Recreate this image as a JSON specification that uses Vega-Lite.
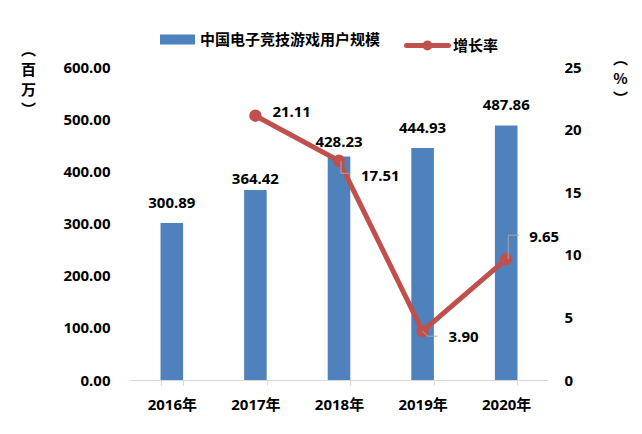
{
  "$schema": "https://vega.github.io/schema/vega-lite/v6.json",
  "width": 418,
  "height": 313,
  "autosize": {"type": "none"},
  "padding": {"left": 130, "top": 67, "right": 94, "bottom": 54},
  "background": "white",
  "config": {
    "view": {"stroke": null},
    "font": "Noto Sans, Noto Sans CJK SC",
    "text": {"font": "Noto Sans, Noto Sans CJK SC", "fontSize": 15, "fontWeight": "bold", "color": "#000000"}
  },
  "data": {
    "values": [
      {"year": "2016年", "users": 300.89, "growth": null},
      {"year": "2017年", "users": 364.42, "growth": 21.11},
      {"year": "2018年", "users": 428.23, "growth": 17.51},
      {"year": "2019年", "users": 444.93, "growth": 3.90},
      {"year": "2020年", "users": 487.86, "growth": 9.65}
    ]
  },
  "encoding": {
    "x": {
      "field": "year", "type": "nominal", "sort": null,
      "scale": {"paddingInner": 0.73, "paddingOuter": 0.365},
      "axis": {
        "title": null, "labelAngle": 0, "labelFont": "Noto Sans, Noto Sans CJK SC",
        "labelFontSize": 15, "labelFontWeight": "bold", "labelColor": "#000000",
        "labelPadding": 12, "domainColor": "#D9D9D9", "domainWidth": 1,
        "ticks": true, "tickColor": "#D9D9D9", "tickSize": 5, "tickWidth": 1, "tickBand": "extent"
      }
    }
  },
  "layer": [
    {
      "encoding": {
        "y": {
          "field": "users", "type": "quantitative",
          "scale": {"domain": [0, 600], "nice": false},
          "axis": {
            "values": [0, 100, 200, 300, 400, 500, 600], "format": ".2f",
            "grid": false, "domain": false, "ticks": false, "tickSize": 0, "labelPadding": 20,
            "labelFont": "Noto Sans, Noto Sans CJK SC", "labelFontSize": 15, "labelFontWeight": "bold", "labelColor": "#000000",
            "title": ["︵", "百", "万", "︶"], "titleAngle": 0, "titleX": -102, "titleY": -25,
            "titleAlign": "center", "titleBaseline": "top", "titleFont": "Noto Sans CJK SC",
            "titleFontSize": 15, "titleFontWeight": "bold", "titleColor": "#000000", "titleLineHeight": 20
          }
        }
      },
      "layer": [
        {
          "mark": {"type": "bar"},
          "encoding": {
            "color": {
              "datum": "中国电子竞技游戏用户规模",
              "scale": {"range": ["#4F81BD"]},
              "legend": {
                "title": null, "orient": "none", "legendX": 30, "legendY": -45,
                "symbolType": "M-1,-0.28H1V0.28H-1Z", "symbolSize": 1225, "symbolStrokeWidth": 0,
                "labelFont": "Noto Sans CJK SC", "labelFontSize": 15, "labelFontWeight": "bold",
                "labelColor": "#000000", "labelOffset": 5, "labelLimit": 400
              }
            }
          }
        },
        {
          "transform": [{"filter": "datum.year == '2016年' || datum.year == '2019年' || datum.year == '2020年'"}],
          "mark": {"type": "text", "baseline": "alphabetic", "dy": -15},
          "encoding": {"text": {"field": "users", "type": "quantitative", "format": ".2f"}}
        },
        {
          "transform": [{"filter": "datum.year == '2017年'"}],
          "mark": {"type": "text", "baseline": "alphabetic", "dy": -6},
          "encoding": {"text": {"field": "users", "type": "quantitative", "format": ".2f"}}
        },
        {
          "transform": [{"filter": "datum.year == '2018年'"}],
          "mark": {"type": "text", "baseline": "alphabetic", "dy": -10},
          "encoding": {"text": {"field": "users", "type": "quantitative", "format": ".2f"}}
        }
      ]
    },
    {
      "transform": [{"filter": "datum.growth != null"}],
      "encoding": {
        "y": {
          "field": "growth", "type": "quantitative",
          "scale": {"domain": [0, 25], "nice": false},
          "axis": {
            "orient": "right", "values": [0, 5, 10, 15, 20, 25], "format": "d",
            "grid": false, "domain": false, "ticks": false, "tickSize": 0, "labelPadding": 16,
            "labelFont": "Noto Sans, Noto Sans CJK SC", "labelFontSize": 15, "labelFontWeight": "bold", "labelColor": "#000000",
            "title": ["︵", "%", "︶"], "titleAngle": 0, "titleX": 72, "titleY": -16,
            "titleAlign": "center", "titleBaseline": "top", "titleFont": "Noto Sans CJK SC",
            "titleFontSize": 15, "titleFontWeight": "bold", "titleColor": "#000000", "titleLineHeight": 20
          }
        }
      },
      "layer": [
        {
          "mark": {"type": "line", "strokeWidth": 5},
          "encoding": {
            "stroke": {
              "datum": "增长率",
              "scale": {"range": ["#C0504D"]},
              "legend": {
                "title": null, "orient": "none", "legendX": 274, "legendY": -45,
                "symbolType": "M-1,0H1M-0.12,0A0.12,0.12,0,1,0,0.12,0A0.12,0.12,0,1,0,-0.12,0",
                "symbolSize": 1764, "symbolStrokeWidth": 5,
                "labelFont": "Noto Sans CJK SC", "labelFontSize": 15, "labelFontWeight": "bold",
                "labelColor": "#000000", "labelOffset": 2,
                "encode": {"symbols": {"update": {"fill": {"value": "#C0504D"}, "strokeCap": {"value": "round"}}}}
              }
            }
          }
        },
        {
          "mark": {"type": "point", "filled": true, "size": 154, "color": "#C0504D", "opacity": 1}
        },
        {
          "transform": [{"filter": "datum.year == '2018年'"}],
          "mark": {"type": "point", "shape": "M0.2,0V1.25H1.05", "size": 400, "filled": false, "stroke": "#A6A6A6", "strokeWidth": 1, "opacity": 1}
        },
        {
          "transform": [{"filter": "datum.year == '2019年'"}],
          "mark": {"type": "point", "shape": "M0,0L0.5,0.5H1.5", "size": 400, "filled": false, "stroke": "#A6A6A6", "strokeWidth": 1, "opacity": 1}
        },
        {
          "transform": [{"filter": "datum.year == '2020年'"}],
          "mark": {"type": "point", "shape": "M0.2,0V-2.4H1.3", "size": 400, "filled": false, "stroke": "#A6A6A6", "strokeWidth": 1, "opacity": 1}
        },
        {
          "transform": [{"filter": "datum.year == '2017年'"}],
          "mark": {"type": "text", "align": "left", "baseline": "alphabetic", "dx": 17, "dy": 1},
          "encoding": {"text": {"field": "growth", "type": "quantitative", "format": ".2f"}}
        },
        {
          "transform": [{"filter": "datum.year == '2018年'"}],
          "mark": {"type": "text", "align": "left", "baseline": "alphabetic", "dx": 22, "dy": 20},
          "encoding": {"text": {"field": "growth", "type": "quantitative", "format": ".2f"}}
        },
        {
          "transform": [{"filter": "datum.year == '2019年'"}],
          "mark": {"type": "text", "align": "left", "baseline": "alphabetic", "dx": 26, "dy": 11},
          "encoding": {"text": {"field": "growth", "type": "quantitative", "format": ".2f"}}
        },
        {
          "transform": [{"filter": "datum.year == '2020年'"}],
          "mark": {"type": "text", "align": "left", "baseline": "alphabetic", "dx": 23, "dy": -17},
          "encoding": {"text": {"field": "growth", "type": "quantitative", "format": ".2f"}}
        }
      ]
    }
  ],
  "resolve": {"scale": {"y": "independent"}}
}
